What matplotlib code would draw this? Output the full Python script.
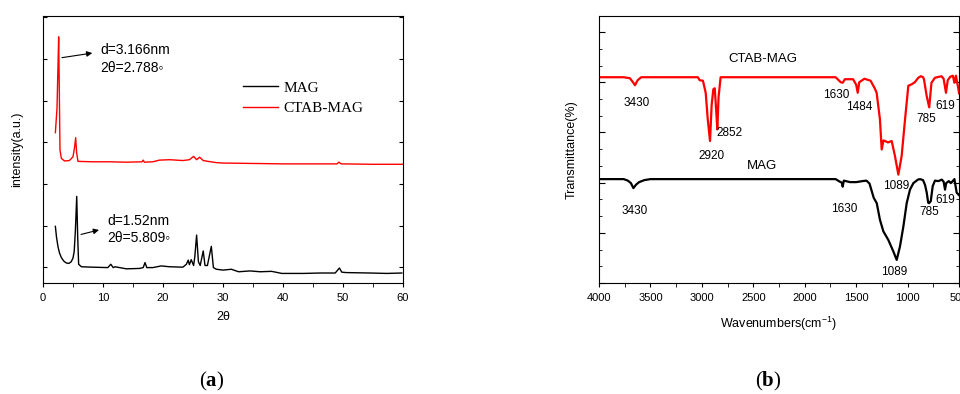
import matplotlib
matplotlib.use('Agg')
import matplotlib.pyplot as plt
from matplotlib.ticker import MultipleLocator, AutoMinorLocator

plt.rcParams['font.family'] = ['Liberation Sans', 'DejaVu Sans']
plt.rcParams['mathtext.fontset'] = 'custom'
plt.rcParams['mathtext.rm'] = 'Liberation Sans'
plt.rcParams['mathtext.bf'] = 'Liberation Serif:bold'

# (a) XRD patterns, intensity in arbitrary units
theta_mag = [2.06, 2.25, 2.5, 2.75, 3.06, 3.5, 3.9, 4.3, 4.7, 5.0, 5.2, 5.4, 5.62,
             5.78, 5.94, 6.4, 8.3, 10.8, 11.3, 11.7, 12.0, 13.9, 16.1, 16.7, 17.0,
             17.3, 18.3, 19.7, 21.1, 23.3, 23.9, 24.2, 24.4, 24.7, 25.1, 25.3, 25.6,
             25.9, 26.2, 26.7, 27.0, 27.4, 28.05, 28.4, 28.9, 30.0, 31.4, 32.6, 34.5,
             36.2, 38.1, 39.8, 43.4, 46.2, 48.7, 49.4, 49.8, 50.6, 54.5, 57.3, 59.8]
int_mag = [0.98, 0.72, 0.49, 0.34, 0.23, 0.14, 0.10, 0.09, 0.13, 0.22, 0.38, 0.89, 1.70,
           0.73, 0.07, 0.01, 0.0, -0.01, 0.07, -0.01, 0.01, -0.04, -0.03, -0.01, 0.11,
           -0.01, -0.01, 0.03, 0.01, 0.0, 0.07, 0.17, 0.06, 0.18, 0.04, 0.25, 0.77,
           0.13, 0.04, 0.39, 0.04, 0.04, 0.50, -0.01, -0.05, -0.07, -0.05, -0.11, -0.09,
           -0.11, -0.10, -0.15, -0.15, -0.14, -0.14, -0.02, -0.12, -0.13, -0.14, -0.15, -0.14]

theta_ctab = [2.06, 2.33, 2.5, 2.61, 2.72, 2.83, 3.06, 3.6, 4.4, 5.0, 5.28, 5.44,
              5.6, 5.83, 8.3, 11.1, 13.9, 16.5, 16.7, 16.9, 18.3, 19.4, 21.1, 23.3,
              24.4, 25.1, 25.6, 26.1, 26.7, 27.5, 28.9, 30.0, 35.0, 40.0, 45.0,
              49.0, 49.3, 49.7, 55.0, 60.0]
int_ctab = [3.23, 3.81, 4.85, 5.53, 4.21, 2.81, 2.61, 2.55, 2.56, 2.65, 2.90, 3.11,
            2.75, 2.54, 2.53, 2.53, 2.52, 2.53, 2.57, 2.52, 2.53, 2.57, 2.58, 2.56,
            2.58, 2.66, 2.58, 2.64, 2.56, 2.54, 2.51, 2.50, 2.49, 2.48, 2.48,
            2.48, 2.52, 2.48, 2.47, 2.47]

# (b) FTIR spectra, transmittance in arbitrary units
wn_ctab = [4000, 3760, 3700, 3670, 3650, 3625, 3590, 3040, 3021, 2990, 2963, 2943,
           2921, 2905, 2889, 2875, 2860, 2850, 2838, 2818, 1700, 1680, 1650, 1631,
           1610, 1530, 1500, 1485, 1470, 1420, 1360, 1320, 1301, 1269, 1252, 1235,
           1220, 1190, 1155, 1123, 1090, 1058, 1025, 993, 960, 930, 896, 870, 850,
           841, 815, 790, 768, 734, 670, 650, 627, 610, 585, 560, 545, 530, 505, 500]
t_ctab = [41.0, 41.0, 40.8, 40.0, 39.4, 40.4, 41.0, 41.0, 40.4, 40.3, 37.9, 32.6,
          28.3, 35.5, 38.6, 38.8, 34.0, 30.6, 37.0, 41.0, 41.0, 40.6, 40.0, 39.9,
          40.6, 40.6, 39.5, 37.9, 40.0, 40.7, 40.3, 38.8, 37.9, 32.6, 26.6, 28.4,
          28.3, 28.0, 28.3, 25.3, 21.6, 25.3, 32.6, 39.3, 39.6, 40.0, 40.9, 41.2, 41.0,
          40.6, 37.3, 35.0, 39.9, 40.9, 41.2, 40.7, 37.9, 40.4, 41.1, 41.3, 39.9, 41.3, 38.5, 37.8]

wn_mag = [4000, 3760, 3720, 3690, 3666, 3640, 3610, 3560, 3500, 1700, 1660, 1640,
          1631, 1620, 1600, 1560, 1500, 1440, 1400, 1370, 1330, 1300, 1269, 1236,
          1188, 1139, 1106, 1074, 1041, 1009, 977, 944, 900, 879, 850, 830, 814,
          800, 792, 775, 756, 734, 700, 668, 650, 636, 625, 600, 580, 570, 545, 523, 500]
t_mag = [20.7, 20.7, 20.4, 19.9, 18.9, 19.6, 20.1, 20.5, 20.7, 20.7, 20.2, 20.0,
         19.2, 20.4, 20.3, 20.1, 20.1, 20.3, 20.4, 19.8, 17.0, 15.9, 12.6, 10.3,
         8.6, 6.3, 4.6, 7.3, 11.3, 15.9, 18.6, 19.9, 20.6, 20.7, 20.5, 19.5, 18.0,
         16.0, 15.9, 16.3, 19.3, 20.4, 20.3, 20.6, 20.2, 18.6, 19.9, 20.3, 19.9, 20.1, 20.7, 18.0, 17.5]

# peak labels: text, wavenumber position, transmittance position
ir_labels = ['CTAB-MAG', '3430', '2920', '2852', '1630', '1484', '785', '619', '1089',
             'MAG', '3430', '1630', '785', '619', '1089']
ir_label_x = [2409, 3634, 2905, 2727, 1696, 1470, 815, 637, 1107,
              2419, 3650, 1619, 792, 630, 1133]
ir_label_y = [44.7, 35.8, 25.4, 29.8, 37.4, 35.1, 32.7, 35.3, 19.3,
              23.4, 14.3, 14.8, 14.1, 16.5, 2.1]

fig = plt.figure(figsize=(9.6, 3.94), dpi=100)

# ---- (a) XRD
ax1 = fig.add_axes([0.0448, 0.2817, 0.375, 0.6777])
ax1.plot(theta_mag, int_mag, color='black', lw=1.0, label='MAG')
ax1.plot(theta_ctab, int_ctab, color='red', lw=1.0, label='CTAB-MAG')
ax1.set_xlim(0, 60)
ax1.set_ylim(-0.38, 6.03)
ax1.xaxis.set_major_locator(MultipleLocator(10))
ax1.xaxis.set_minor_locator(MultipleLocator(5))
ax1.yaxis.set_major_locator(MultipleLocator(1))
ax1.tick_params(axis='x', which='both', direction='out', length=3, labelsize=8, pad=4)
ax1.tick_params(axis='y', direction='in', right=True, length=3, labelleft=False)
ax1.set_xlabel('2θ', fontsize=9, labelpad=6)
ax1.set_ylabel('intensity(a.u.)', fontsize=9, labelpad=14)

arrow = dict(arrowstyle='-|>', color='black', lw=0.8, mutation_scale=8)
ax1.annotate('', xy=(8.67, 5.15), xytext=(2.7, 5.02), arrowprops=arrow)
ax1.text(9.6, 5.22, 'd=3.166nm', va='center', fontsize=10)
ax1.text(9.6, 4.78, '2θ=2.788◦', va='center', fontsize=10)
ax1.annotate('', xy=(9.78, 0.91), xytext=(5.88, 0.77), arrowprops=arrow)
ax1.text(10.7, 1.10, 'd=1.52nm', va='center', fontsize=10)
ax1.text(10.7, 0.69, '2θ=5.809◦', va='center', fontsize=10)

ax1.legend(loc='upper left', bbox_to_anchor=(0.556, 0.757), frameon=False,
           prop={'family': 'Liberation Serif', 'size': 11}, handlelength=2.3,
           handletextpad=0.35, labelspacing=0.45, borderpad=0, borderaxespad=0)

# ---- (b) FTIR
ax2 = fig.add_axes([0.624, 0.2817, 0.375, 0.6777])
ax2.plot(wn_ctab, t_ctab, color='red', lw=1.6)
ax2.plot(wn_mag, t_mag, color='black', lw=1.6)
ax2.set_xlim(4000, 500)
ax2.set_ylim(0, 53.2)
ax2.xaxis.set_major_locator(MultipleLocator(500))
ax2.xaxis.set_minor_locator(MultipleLocator(250))
ax2.yaxis.set_major_locator(MultipleLocator(10))
ax2.yaxis.set_minor_locator(AutoMinorLocator(3))
ax2.tick_params(axis='x', which='both', direction='out', length=3, labelsize=8, pad=4)
ax2.tick_params(axis='y', which='major', direction='in', right=True, length=4, labelleft=False)
ax2.tick_params(axis='y', which='minor', direction='in', right=True, length=2)
ax2.set_xlabel('Wavenumbers(cm$^{\\mathregular{-1}}$)', fontsize=9, labelpad=9)
ax2.set_ylabel('Transmittance(%)', fontsize=9, labelpad=12)

for s, x, y in zip(ir_labels, ir_label_x, ir_label_y):
    fs = 9.5 if 'MAG' in s else 8.5
    ax2.text(x, y, s, ha='center', va='center', fontsize=fs)

fig.text(0.221, 0.031, '($\\mathbf{a}$)', ha='center', va='center',
         family='Liberation Serif', fontsize=15)
fig.text(0.80, 0.031, '($\\mathbf{b}$)', ha='center', va='center',
         family='Liberation Serif', fontsize=15)

fig.savefig('out.png', dpi=100)
